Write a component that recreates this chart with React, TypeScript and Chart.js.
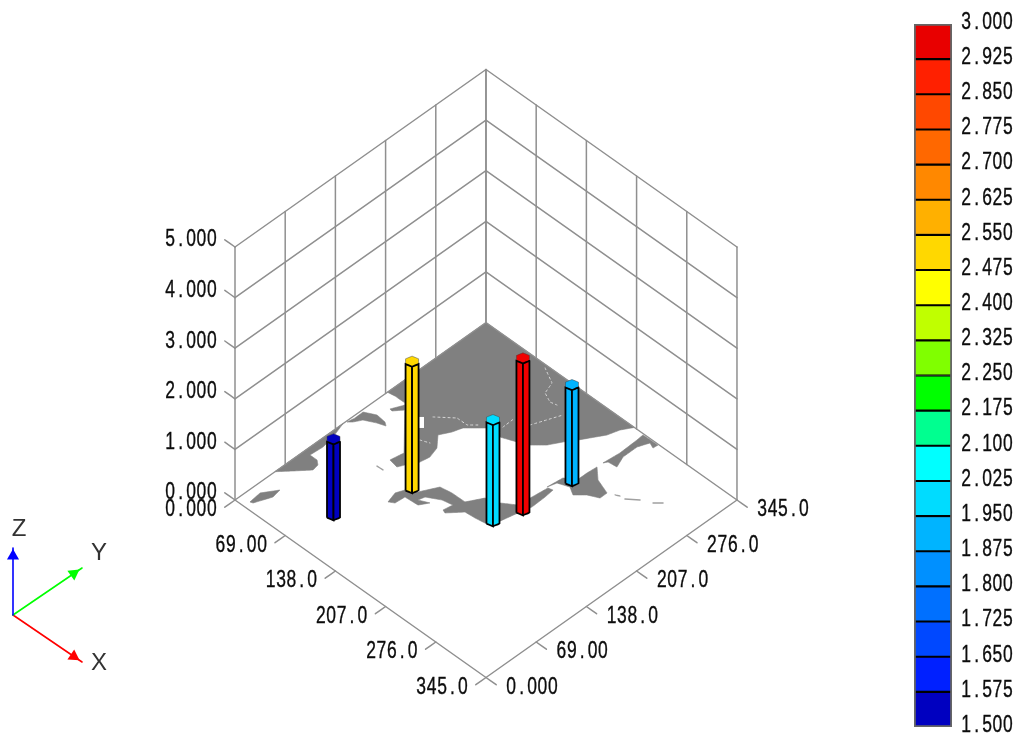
import React, { useEffect, useRef } from "react";
import { Chart, registerables } from "chart.js";

Chart.register(...registerables);

// ---------- data ----------
const xTickValues = [0, 69, 138, 207, 276, 345];
const xTickLabels = ["0.000", "69.00", "138.0", "207.0", "276.0", "345.0"];
const yTickValues = [0, 69, 138, 207, 276, 345];
const yTickLabels = ["0.000", "69.00", "138.0", "207.0", "276.0", "345.0"];
const zTickValues = [0, 1, 2, 3, 4, 5];
const zTickLabels = ["0.000", "1.000", "2.000", "3.000", "4.000", "5.000"];

const columnX = [82.3, 110, 197.7, 207.6, 213.1];
const columnY = [53.1, 133.4, 156.9, 188.2, 250.1];
const columnZ = [1.5, 2.5, 2.0, 3.0, 1.9];

const colorBands = [
  "#0000c0", "#0020ff", "#0048ff", "#0070ff", "#0090ff",
  "#00b4ff", "#00dcff", "#00ffff", "#00ff90", "#00ff00",
  "#80ff00", "#c0ff00", "#ffff00", "#ffd800", "#ffb000",
  "#ff8800", "#ff6800", "#ff4800", "#ff2000", "#e80000",
];
const colorLevels = [
  1.5, 1.575, 1.65, 1.725, 1.8, 1.875, 1.95, 2.025, 2.1, 2.175, 2.25,
  2.325, 2.4, 2.475, 2.55, 2.625, 2.7, 2.775, 2.85, 2.925, 3.0,
];

const landNorth = [
  [0, 345], [204, 345], [196.6, 332.6], [192.5, 318.9], [183.7, 304.3], [177.4, 294],
  [169, 281.8], [161, 267.8], [149.4, 256.2], [137.4, 250.2], [120.9, 243.3], [114.1, 250.1],
  [103.2, 243.2], [86.7, 226.7], [83, 215.2], [76.3, 202.7], [88.3, 189.3], [92.2, 175.8],
  [89.8, 161.8], [82.8, 150.8], [79.2, 143.4], [67.6, 145.4], [70.5, 161.9], [22.5, 211.1],
  [9, 211], [0, 209.5],
];
const landWest = [
  [0, 148.5], [0, 55], [11.7, 68.1], [24.4, 82.8], [23, 91], [17.5, 95.3],
  [7.8, 95.2], [9, 112], [6.2, 128.6],
];
const landWest2 = [
  [1.2, 152.8], [2.8, 162.2], [2.5, 173.5], [15, 180.2], [27.3, 178.9], [31.9, 175.7],
  [22.8, 172.4], [10.3, 165.7], [5.3, 156.9],
];
const landStrip = [[18.1, 194.9], [24.5, 209.1], [29.3, 204.3], [21.4, 194.4]];
const landCorner = [[12.2, 8.4], [10.4, 24], [21.2, 40.6], [23.2, 29], [15.3, 9.5]];
const landIsle = [
  [201.8, 227], [204, 246.8], [215.7, 254.5], [215.7, 268.1], [216.7, 280.9], [230.1, 268.9],
  [248.9, 262.5], [249, 252.8], [237, 246.8], [227.4, 237.2], [217.6, 242.8], [204.8, 237.8],
];
const landLong = [
  [216.9, 288.9], [218.9, 310.3], [218, 334.6], [217.2, 343.6], [237.3, 344.1], [236.8, 337.8],
  [229.8, 340.6], [224.8, 327.8], [224.9, 308.5], [230.4, 294.6], [219.5, 293.3],
];
const landChain = [
  [107.1, 103.3], [103.2, 116.8], [107.1, 126.5], [118, 133.6], [128.3, 153.5], [142.3, 155.9],
  [160, 156.2], [169.9, 173.7], [185, 179.2], [199.4, 189.6], [201.2, 207], [203.4, 226.8],
  [208.9, 228.3], [210.2, 216], [210.9, 197.3], [207.1, 181.9], [202.2, 159.4], [194.2, 149.4],
  [182.5, 147.5], [169.8, 146.4], [156.9, 131.7], [152.7, 133.3], [154.7, 144.9], [142.3, 142.3],
  [127.7, 133.5], [125.8, 125.8], [136.9, 131.1], [130.7, 120.9], [113.9, 119.7], [112.9, 107.1],
];
const lakeHole = [[47.15, 208.55], [57.85, 197.85]];
const borderA = [[55.4, 216.8], [72.9, 232.3], [86.6, 232.4], [95.5, 241.3]];
const borderB = [[113.3, 255.1], [112.7, 272.1]];
const borderC = [[129.9, 275.7], [142.8, 308]];
const borderD = [[84.8, 341.4], [104.2, 331.6], [109.1, 317.1], [121.3, 311.7], [129, 313.6]];
const borderE = [[68.8, 185.4], [78.6, 189.4]];
const speckA = [[256.3, 266.1], [260.7, 268.5]];
const speckB = [[267, 269], [278.4, 278.4]];
const speckC = [[290.2, 284.4], [297.1, 291.3]];
const speckD = [[64.6, 130.6], [72.5, 130.9]];

// ---------- helpers ----------
const GRID = "#8f8f8f";
const LAND = "#808080";
const DOMAIN = 345;
const TICK = 14;
const CELL = 10.4;
// a non-zero tension keeps Chart.js off its x-sorted fast path, which merges points sharing a pixel column
const EXACT = 0.00001;

function project(x: number, y: number, z: number) {
  return { x: 235 + (x + y) * 0.7275, y: 500 + (x - y) * 0.5145 - z * 50.6 };
}
function triad(x: number, y: number, z: number) {
  return { x: 13 + (x + y) * 69, y: 615 + (x - y) * 47 - z * 67 };
}
function valueColor(v: number) {
  for (let i = 0; i < colorBands.length; i++) {
    if (v < colorLevels[i + 1]) return colorBands[i];
  }
  return "#f00000";
}
function drawCells(ctx: CanvasRenderingContext2D, s: string, left: number, y: number) {
  ctx.save();
  ctx.font = '23px "Liberation Sans", sans-serif';
  ctx.fillStyle = "#0c0c0c";
  ctx.strokeStyle = "#0c0c0c";
  ctx.lineWidth = 0.35;
  ctx.textBaseline = "middle";
  ctx.textAlign = "center";
  [...s].forEach((ch, i) => {
    ctx.save();
    ctx.translate(left + (i + 0.5) * CELL, y);
    ctx.scale(0.76, 1);
    ctx.fillText(ch, 0, 0);
    ctx.strokeText(ch, 0, 0);
    ctx.restore();
  });
  ctx.restore();
}
function line(points: { x: number; y: number }[], color: string, width = 1.5, dash?: number[], cap = "round") {
  return {
    data: points, showLine: true, fill: false, borderColor: color, borderWidth: width,
    borderDash: dash || [], pointRadius: 0, tension: EXACT, borderJoinStyle: "round", borderCapStyle: cap,
  };
}
function shape(points: { x: number; y: number }[], color: string, edge?: string, width = 0.6) {
  return {
    data: [...points, points[0]], showLine: true, fill: "shape", backgroundColor: color,
    borderColor: edge || color, borderWidth: width, pointRadius: 0, tension: EXACT,
  };
}
const floor = (list: number[][]) => list.map(([x, y]) => project(x, y, 0));

function buildMapDatasets() {
  const out: any[] = [];
  [landNorth, landWest, landWest2, landStrip, landCorner, landIsle, landLong, landChain].forEach((l) =>
    out.push(shape(floor(l), LAND))
  );
  out.push(line(floor(lakeHole), "#ffffff", 6, [], "butt"));
  [borderA, borderB, borderC, borderD, borderE].forEach((l) =>
    out.push(line(floor(l), "#d8d8d8", 1, [2, 3]))
  );
  [speckA, speckB, speckC, speckD].forEach((l) => out.push(line(floor(l), "#a0a0a0", 1.4)));
  return out.reverse();
}

function buildDatasets() {
  const out: any[] = [];
  for (const z of zTickValues) {
    out.push(line([project(0, 0, z), project(0, DOMAIN, z), project(DOMAIN, DOMAIN, z)], GRID));
    out.push(line([project(0, 0, z), project(-TICK, 0, z)], GRID));
  }
  for (const y of yTickValues) {
    out.push(line([project(0, y, 0), project(0, y, 5)], GRID));
    out.push(line([project(DOMAIN, y, 0), project(DOMAIN + TICK, y, 0)], GRID));
  }
  for (const x of xTickValues) {
    out.push(line([project(x, DOMAIN, 0), project(x, DOMAIN, 5)], GRID));
    out.push(line([project(x, 0, 0), project(x, -TICK, 0)], GRID));
  }
  out.push(line([project(0, 0, 0), project(DOMAIN, 0, 0), project(DOMAIN, DOMAIN, 0)], GRID));

  const R = 7.3;
  const hex = [-45, 15, 75, 135, 195, 255].map((d) => [
    R * Math.cos((d * Math.PI) / 180),
    R * Math.sin((d * Math.PI) / 180),
  ]);
  columnX.forEach((cx, i) => {
    const h = columnZ[i];
    const c = valueColor(h);
    const b = (k: number) => project(cx + hex[k][0], columnY[i] + hex[k][1], 0);
    const t = (k: number) => project(cx + hex[k][0], columnY[i] + hex[k][1], h);
    out.push(shape([0, 1, 2, 3, 4, 5].map(t), c, "#404040", 0.5));
    out.push(shape([b(5), b(0), t(0), t(5)], c, "#000000", 1.8));
    out.push(shape([b(0), b(1), t(1), t(0)], c, "#000000", 1.8));
  });

  const o = triad(0, 0, 0);
  const arrows: [number[], string, number][] = [
    [[1, 0, 0], "#ff0000", 124],
    [[0, 1, 0], "#00ff00", 55],
    [[0, 0, 1], "#0000ff", 0],
  ];
  arrows.forEach(([d, col, rot]) => {
    const tip = triad(d[0], d[1], d[2]);
    out.push(line([o, tip], col, 1.6));
    const head = triad(d[0] * 0.88, d[1] * 0.88, d[2] * 0.88);
    out.push({
      data: [head], showLine: false, pointStyle: "triangle", pointRadius: 7, pointRotation: rot,
      backgroundColor: col, borderColor: col, borderWidth: 0,
    });
  });
  return out.reverse();
}

const textPlugin = {
  id: "axisText",
  afterDatasetsDraw(chart: any) {
    const { ctx, scales } = chart;
    const px = (p: { x: number; y: number }, dx: number, dy: number) => ({
      x: scales.x.getPixelForValue(p.x + dx),
      y: scales.y.getPixelForValue(p.y + dy),
    });
    const width = (s: string) => s.length * CELL;
    zTickValues.forEach((z, i) => {
      const p = px(project(0, 0, z), -18, -7);
      drawCells(ctx, zTickLabels[i], p.x - width(zTickLabels[i]), p.y);
    });
    xTickValues.forEach((x, i) => {
      const p = px(project(x, 0, 0), -18, 10);
      drawCells(ctx, xTickLabels[i], p.x - width(xTickLabels[i]), p.y);
    });
    yTickValues.forEach((y, i) => {
      const p = px(project(DOMAIN, y, 0), 20, 10);
      drawCells(ctx, yTickLabels[i], p.x, p.y);
    });
    ctx.save();
    ctx.font = '24px "Liberation Sans", sans-serif';
    ctx.fillStyle = "#333333";
    ctx.textAlign = "center";
    ctx.textBaseline = "middle";
    const lab = (s: string, p: { x: number; y: number }, dx: number, dy: number) => {
      const q = px(p, dx, dy);
      ctx.fillText(s, q.x, q.y);
    };
    lab("X", triad(1, 0, 0), 17, 1);
    lab("Y", triad(0, 1, 0), 17, -15);
    lab("Z", triad(0, 0, 1), 6, -19);
    ctx.restore();
  },
};

const barTextPlugin = {
  id: "barText",
  afterDraw(chart: any) {
    const s = chart.scales.y;
    s.ticks.forEach((t: any) => {
      drawCells(chart.ctx, Number(t.value).toFixed(3), chart.chartArea.right + 9, s.getPixelForValue(t.value) - 1.5);
    });
  },
};

const pageOptions = {
  animation: false,
  responsive: false,
  layout: { padding: 0, autoPadding: false },
  plugins: { legend: { display: false }, tooltip: { enabled: false } },
  scales: {
    x: { type: "linear", min: 0, max: 1015, display: false },
    y: { type: "linear", min: 0, max: 734, reverse: true, display: false },
  },
};

export default function App() {
  const mapRef = useRef<HTMLCanvasElement>(null);
  const mainRef = useRef<HTMLCanvasElement>(null);
  const barRef = useRef<HTMLCanvasElement>(null);

  useEffect(() => {
    const map = new Chart(mapRef.current!, {
      type: "scatter",
      data: { datasets: buildMapDatasets() },
      options: pageOptions,
    } as any);
    const main = new Chart(mainRef.current!, {
      type: "scatter",
      data: { datasets: buildDatasets() },
      options: pageOptions,
      plugins: [textPlugin],
    } as any);

    const bandSets: any[] = colorBands.map((c, i) => ({
      data: [[colorLevels[i], colorLevels[i + 1]]],
      backgroundColor: c,
      borderColor: "#000000",
      borderWidth: 1.4,
      borderSkipped: false,
      barThickness: 38,
      order: 2,
    }));
    bandSets.push({
      data: [[colorLevels[0], colorLevels[colorLevels.length - 1]]],
      backgroundColor: "rgba(0,0,0,0)",
      borderColor: "#666666",
      borderWidth: 1.5,
      borderSkipped: false,
      barThickness: 38,
      order: 1,
    });
    const bar = new Chart(barRef.current!, {
      type: "bar",
      data: { labels: [""], datasets: bandSets },
      options: {
        animation: false,
        responsive: false,
        layout: { padding: { left: 14, right: 0, top: 24, bottom: 7 }, autoPadding: false },
        plugins: { legend: { display: false }, tooltip: { enabled: false } },
        datasets: { bar: { grouped: false } },
        scales: {
          x: { display: false },
          y: {
            position: "right",
            min: 1.5,
            max: 3,
            afterFit: (s: any) => { s.width = 63; },
            grid: { display: false, drawTicks: false },
            border: { display: false },
            ticks: { stepSize: 0.075, autoSkip: false, display: false },
          },
        },
      },
      plugins: [barTextPlugin],
    } as any);
    return () => {
      map.destroy();
      main.destroy();
      bar.destroy();
    };
  }, []);

  const soften = { filter: "blur(0.45px)" };
  return (
    <div style={{ position: "absolute", left: 0, top: 0, width: 1015, height: 734, overflow: "hidden", background: "#fff" }}>
      <canvas ref={mapRef} width={1015} height={734} style={{ position: "absolute", left: 0, top: 0, ...soften }} />
      <canvas ref={mainRef} width={1015} height={734} style={{ position: "absolute", left: 0, top: 0, ...soften }} />
      <canvas ref={barRef} width={115} height={734} style={{ position: "absolute", left: 900, top: 0, ...soften }} />
    </div>
  );
}
